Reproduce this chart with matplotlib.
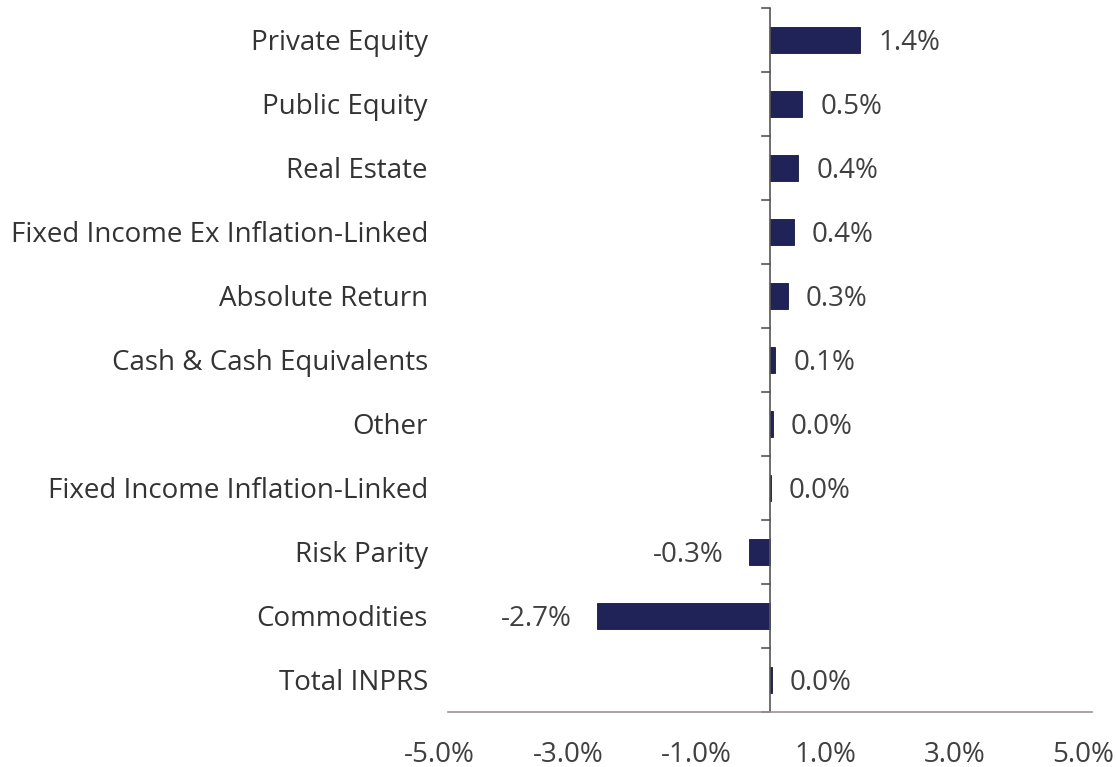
import matplotlib
matplotlib.use("Agg")
import matplotlib.pyplot as plt

categories = ["Private Equity", "Public Equity", "Real Estate",
              "Fixed Income Ex Inflation-Linked", "Absolute Return",
              "Cash & Cash Equivalents", "Other",
              "Fixed Income Inflation-Linked", "Risk Parity",
              "Commodities", "Total INPRS"]
values = [1.40, 0.50, 0.44, 0.37, 0.28, 0.08, 0.04, 0.01, -0.33, -2.69, 0.03]
labels = ["1.4%", "0.5%", "0.4%", "0.4%", "0.3%", "0.1%", "0.0%", "0.0%",
          "-0.3%", "-2.7%", "0.0%"]
xticks = [-5, -3, -1, 1, 3, 5]
xticklabels = ["-5.0%", "-3.0%", "-1.0%", "1.0%", "3.0%", "5.0%"]

plt.rcParams['font.family'] = ['Open Sans', 'DejaVu Sans']
FS = 20
PX = 0.72  # points per pixel at dpi 100
BASE = -7.2  # baseline offset (pt) so capitals are centred on the row

fig = plt.figure(figsize=(11.16, 7.67), dpi=100)
ax = fig.add_axes([448/1116, 1-712/767, (1092-448)/1116, (712-8)/767])

bar_color = "#1f2357"
n = len(categories)
ypos = list(range(n))
ax.barh(ypos, values, height=0.41, color=bar_color, edgecolor="#15183f", linewidth=0.6)
ax.set_ylim(n - 0.5, -0.5)
ax.set_xlim(-5, 5)

for y, v, lab in zip(ypos, values, labels):
    if v >= 0:
        ax.annotate(lab, (v, y), xytext=(13, BASE), textcoords="offset points",
                    ha="left", va="baseline", fontsize=FS, color="#404040")
    else:
        ax.annotate(lab, (v, y), xytext=(-18, BASE), textcoords="offset points",
                    ha="right", va="baseline", fontsize=FS, color="#404040")

for s in ["top", "right", "left"]:
    ax.spines[s].set_visible(False)
ax.spines["bottom"].set_color("#9a9490")
ax.spines["bottom"].set_linewidth(1.2)
ax.axvline(0, color="#555555", linewidth=1.2)

ax.set_xticks([])
ax.set_yticks([])
for x, lab in zip(xticks, xticklabels):
    ax.annotate(lab, (x, 0), xycoords=("data", "axes fraction"),
                xytext=(-9 * PX, -50 * PX), textcoords="offset points",
                ha="center", va="baseline", fontsize=FS, color="#404040",
                annotation_clip=False)

# category labels on the left, boundary ticks at zero line
for y, c in zip(ypos, categories):
    ax.annotate(c, (-5, y), xytext=(-20 * PX, BASE), textcoords="offset points",
                ha="right", va="baseline", fontsize=FS, color="#333333",
                annotation_clip=False)
for b in range(n + 1):
    ax.plot([-0.12, 0], [b - 0.5, b - 0.5], color="#555555", linewidth=1.2,
            clip_on=False)

fig.savefig("out.png", dpi=100)
